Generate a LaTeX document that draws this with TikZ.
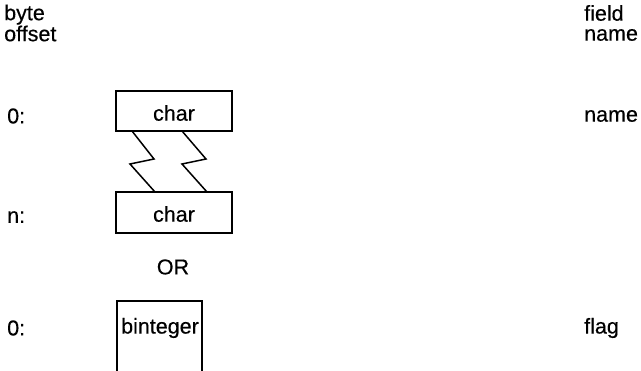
\documentclass[tikz,border=0pt]{standalone}
\usepackage{fontspec}
\setmainfont{Liberation Sans}[FakeBold=0.4]
\begin{document}
\begin{tikzpicture}[x=1pt,y=-1pt,
  lbl/.style={font=\fontsize{21.5}{20}\selectfont, inner sep=0pt},
  lblL/.style={lbl, anchor=west},
  rec/.style={draw, line width=1.6pt},
  zz/.style={line width=1.5pt}]
\useasboundingbox (0,0) rectangle (641,371);
\node[lblL, align=left] (hdrA) at (4,23) {byte\\offset};
\node[lblL, align=left] (hdrB) at (584,23) {field\\name};
\node[lblL] (o1) at (7,116) {0:};
\node[lblL] (f1) at (584,116) {name};
\node[lblL] (o2) at (7,217) {n:};
\node[lblL] (o3) at (7,328) {0:};
\node[lblL] (f3) at (584,328) {flag};
\node[lbl] (or) at (173,267) {OR};
\draw[rec] (116,91) rectangle (232,131);
\node[lbl] (c1) at (174,113) {char};
\draw[rec] (116,192) rectangle (232,233);
\node[lbl] (c2) at (174,214) {char};
\draw[rec] (117,375) -- (117,301) -- (202,301) -- (202,375);
\node[lbl] (b1) at (160,328) {binteger};
\draw[zz] (132,131) -- (154,159) -- (130,164) -- (155,192);
\draw[zz] (182,131) -- (206,159) -- (182,164) -- (207,192);
\end{tikzpicture}
\end{document}
